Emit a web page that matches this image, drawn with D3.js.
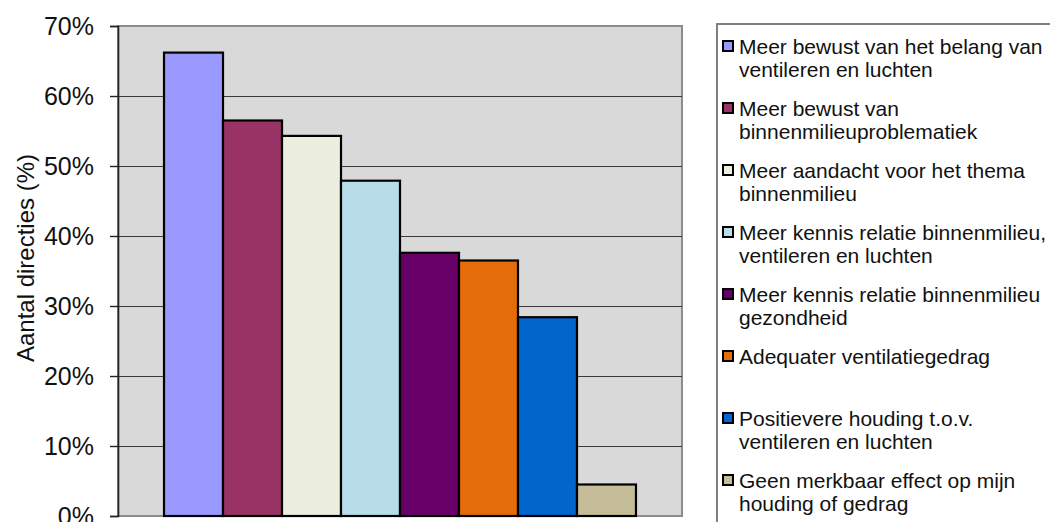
<!DOCTYPE html>
<html>
<head>
<meta charset="utf-8">
<script src="https://cdn.jsdelivr.net/npm/d3@7"></script>
<style>
  html, body { margin: 0; padding: 0; background: #fff; }
  svg { display: block; font-family: "Liberation Sans", Arial, sans-serif; }
</style>
</head>
<body>
<svg id="chart" width="1050" height="522"></svg>
<script>
// Effecten op directies: aandeel per effect
const categories = [
  "Meer bewust van het belang van ventileren en luchten",
  "Meer bewust van binnenmilieuproblematiek",
  "Meer aandacht voor het thema binnenmilieu",
  "Meer kennis relatie binnenmilieu, ventileren en luchten",
  "Meer kennis relatie binnenmilieu gezondheid",
  "Adequater ventilatiegedrag",
  "Positievere houding t.o.v. ventileren en luchten",
  "Geen merkbaar effect op mijn houding of gedrag"
];
const legendLines = [
  ["Meer bewust van het belang van", "ventileren en luchten"],
  ["Meer bewust van", "binnenmilieuproblematiek"],
  ["Meer aandacht voor het thema", "binnenmilieu"],
  ["Meer kennis relatie binnenmilieu,", "ventileren en luchten"],
  ["Meer kennis relatie binnenmilieu", "gezondheid"],
  ["Adequater ventilatiegedrag"],
  ["Positievere houding t.o.v.", "ventileren en luchten"],
  ["Geen merkbaar effect op mijn", "houding of gedrag"]
];
const values = [0.662, 0.565, 0.543, 0.479, 0.376, 0.365, 0.284, 0.045];
const colors = ["#9999FF", "#993366", "#ECEFE0", "#B7DDE8", "#660066", "#E46C0A", "#0066CC", "#C4BD97"];
const yTicks = [0, 0.1, 0.2, 0.3, 0.4, 0.5, 0.6, 0.7];
const yTitle = "Aantal directies (%)";

const svg = d3.select("#chart");
const plot = { left: 118, right: 682, top: 26, bottom: 516 };

const y = d3.scaleLinear().domain([0, 0.7]).range([plot.bottom, plot.top]);
const x = d3.scaleBand().domain(categories)
  .range([plot.left, plot.right])
  .paddingInner(0)
  .paddingOuter(0.78);

// plot area background
svg.append("rect")
  .attr("x", plot.left).attr("y", plot.top)
  .attr("width", plot.right - plot.left)
  .attr("height", plot.bottom - plot.top)
  .attr("fill", "#D9D9D9")
  .attr("stroke", "#8c8c8c")
  .attr("stroke-width", 2);

// horizontal gridlines
svg.append("g")
  .selectAll("line")
  .data(yTicks.filter(t => t > 0 && t < 0.7))
  .join("line")
  .attr("x1", plot.left).attr("x2", plot.right)
  .attr("y1", d => Math.round(y(d)) + 0.5).attr("y2", d => Math.round(y(d)) + 0.5)
  .attr("stroke", "#3a3a3a")
  .attr("stroke-width", 1.2);

// bars
svg.append("g")
  .selectAll("rect")
  .data(values)
  .join("rect")
  .attr("x", (d, i) => x(categories[i]))
  .attr("y", d => y(d))
  .attr("width", x.bandwidth())
  .attr("height", d => y(0) - y(d))
  .attr("fill", (d, i) => colors[i])
  .attr("stroke", "#000")
  .attr("stroke-width", 2.2);

// y axis
const yAxis = d3.axisLeft(y)
  .tickValues(yTicks)
  .tickFormat(d3.format(".0%"))
  .tickSize(8)
  .tickPadding(16);
const ax = svg.append("g")
  .attr("transform", `translate(${plot.left},0)`)
  .call(yAxis);
ax.select(".domain").attr("stroke", "#222").attr("stroke-width", 1.6);
ax.selectAll(".tick line").attr("stroke", "#222").attr("stroke-width", 1.4);
ax.selectAll(".tick text")
  .attr("font-size", 25)
  .attr("font-family", "'Liberation Sans', Arial, sans-serif")
  .attr("fill", "#111");

// y axis title
svg.append("text")
  .attr("transform", `translate(34,258) rotate(-90)`)
  .attr("text-anchor", "middle")
  .attr("font-size", 24)
  .attr("fill", "#111")
  .text(yTitle);

// legend
const legend = svg.append("g");
legend.append("rect")
  .attr("x", 717).attr("y", 24)
  .attr("width", 400).attr("height", 520)
  .attr("fill", "#fff")
  .attr("stroke", "#808080")
  .attr("stroke-width", 2);

const entries = legend.selectAll("g.entry")
  .data(legendLines)
  .join("g")
  .attr("class", "entry")
  .attr("transform", (d, i) => `translate(0,${46 + i * 62})`);

entries.append("rect")
  .attr("x", 723).attr("y", -5)
  .attr("width", 10).attr("height", 10)
  .attr("fill", (d, i) => colors[i])
  .attr("stroke", "#000")
  .attr("stroke-width", 2);

entries.each(function(lines) {
  const t = d3.select(this).append("text")
    .attr("x", 739).attr("y", 0)
    .attr("font-size", 21)
    .attr("fill", "#111");
  lines.forEach((ln, k) => {
    t.append("tspan")
      .attr("x", 739)
      .attr("y", k * 23.5 + 7.5)
      .text(ln);
  });
});
</script>
</body>
</html>
